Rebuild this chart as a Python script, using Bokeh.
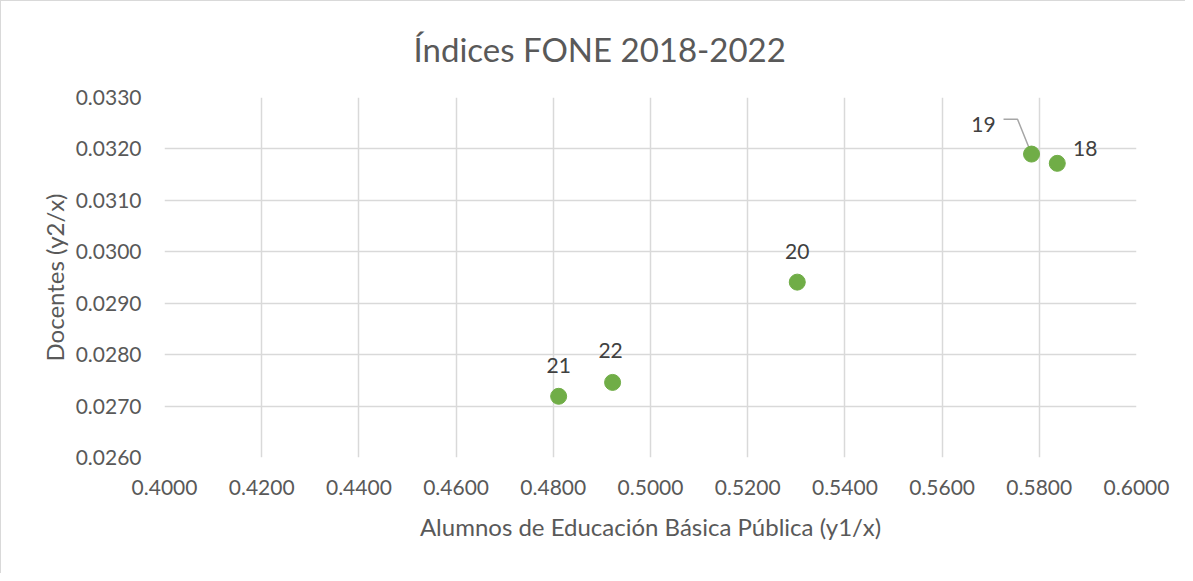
from bokeh.plotting import figure
from bokeh.models import ColumnDataSource, LabelSet, Range1d, FixedTicker, NumeralTickFormatter
from bokeh.core.properties import value
from bokeh.embed import file_html
from bokeh.resources import INLINE

# Data
title_text = "Índices FONE 2018-2022"
years = ["18", "19", "20", "21", "22"]
alumnos = [0.5837, 0.5784, 0.5302, 0.4811, 0.4922]
docentes = [0.03172, 0.03190, 0.02941, 0.02719, 0.02746]
x_ticks = [0.40, 0.42, 0.44, 0.46, 0.48, 0.50, 0.52, 0.54, 0.56, 0.58, 0.60]
y_ticks = [0.026, 0.027, 0.028, 0.029, 0.030, 0.031, 0.032, 0.033]

# label offsets in pixels (style)
lab_dx = [28, -48, 0, 0, -2]
lab_dy = [15, 30, 31, 31, 32]

FONT = "Lato"
GRAY = "#595959"

W, H = 1185, 573
p = figure(width=W, height=H, output_backend="svg", toolbar_location=None,
           x_range=Range1d(0.40, 0.60), y_range=Range1d(0.026, 0.033),
           min_border_left=163, min_border_right=50, min_border_top=95, min_border_bottom=117,
           title=title_text)
p.styles = {"border-top": "1px solid #d9d9d9", "border-left": "1px solid #d9d9d9"}
p.background_fill_color = "white"
p.border_fill_color = "white"
p.outline_line_color = None

p.title.text_font = FONT
p.title.text_font_size = "33px"
p.title.text_font_style = "normal"
p.title.text_color = GRAY
p.title.align = "left"
p.title.offset = 249
p.title.vertical_align = "top"
p.title.standoff = 54

for ax in (p.xaxis[0], p.yaxis[0]):
    ax.axis_line_color = None
    ax.major_tick_line_color = None
    ax.minor_tick_line_color = None
    ax.major_label_text_font = FONT
    ax.major_label_text_font_size = "21px"
    ax.major_label_text_color = GRAY
    ax.axis_label_text_font = FONT
    ax.axis_label_text_font_size = "24px"
    ax.axis_label_text_font_style = "normal"
    ax.axis_label_text_color = GRAY
    ax.formatter = NumeralTickFormatter(format="0.0000")

p.xaxis.ticker = FixedTicker(ticks=x_ticks)
p.yaxis.ticker = FixedTicker(ticks=y_ticks)
p.xaxis.axis_label = "Alumnos de Educación Básica Pública (y1/x)"
p.yaxis.axis_label = "Docentes (y2/x)"
p.xaxis.major_label_standoff = 16
p.yaxis.major_label_standoff = 17
p.xaxis.axis_label_standoff = 14
p.yaxis.axis_label_standoff = 4

p.xgrid.grid_line_color = "#d9d9d9"
p.ygrid.grid_line_color = "#d9d9d9"
p.xgrid.grid_line_width = 1.5
p.ygrid.grid_line_width = 1.5

src = ColumnDataSource(dict(x=alumnos, y=docentes, t=years, dx=lab_dx, dy=lab_dy))

# pixel-per-unit scales of the frame
px_x = 972 / 0.2
px_y = 361 / 0.007

# leader line for "19"
i = years.index("19")
lx = [alumnos[i] + d / px_x for d in (-28, -14, -2)]
ly = [docentes[i] + d / px_y for d in (35, 35, 5)]
p.line(lx, ly, line_color="#a6a6a6", line_width=1.5)

p.scatter("x", "y", source=src, size=16, fill_color="#70AD47", line_color="#70AD47")

labels = LabelSet(x="x", y="y", text="t", source=src, x_offset="dx", y_offset="dy",
                  text_align="center", text_baseline="middle",
                  text_font=value(FONT), text_font_size="21px", text_color="#404040")
p.add_layout(labels)

open("out.html", "w").write(file_html(p, INLINE))
